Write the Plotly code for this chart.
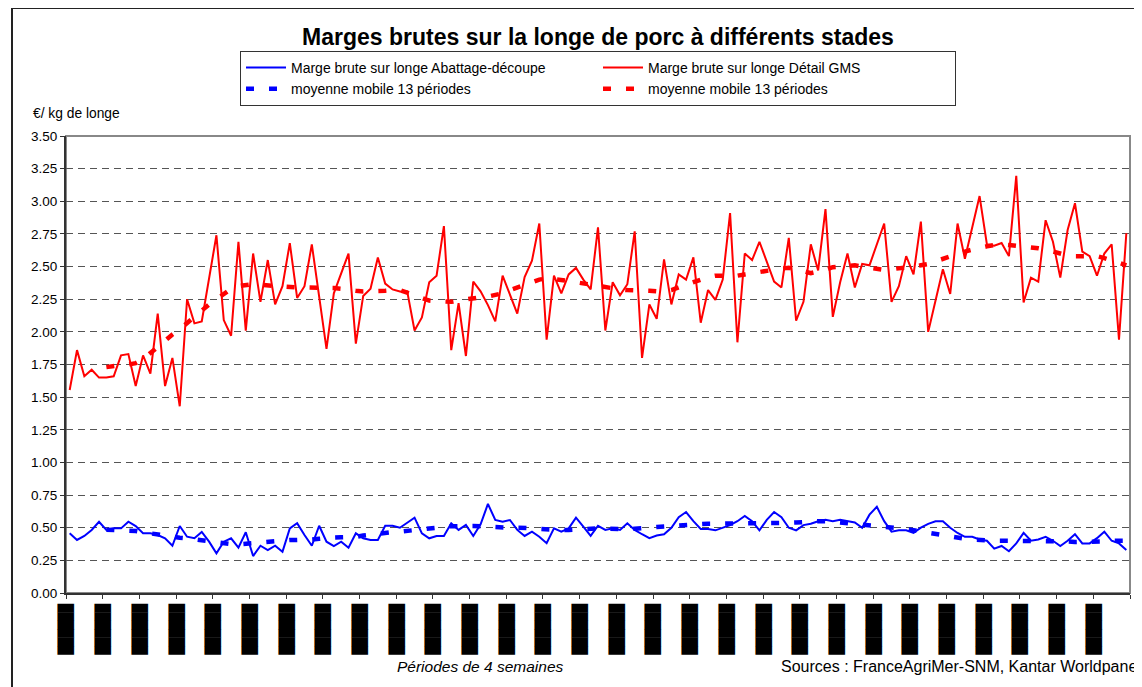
import plotly.graph_objects as go

# ---- data ----
periods = list(range(1, 146))  # 145 four-week periods

abattage = [
    0.457, 0.406, 0.437, 0.483, 0.546, 0.483, 0.495, 0.495, 0.546, 0.513,
    0.457, 0.457, 0.444, 0.419, 0.362, 0.513, 0.431, 0.419, 0.467, 0.393,
    0.304, 0.393, 0.419, 0.347, 0.465, 0.283, 0.362, 0.329, 0.362, 0.316,
    0.495, 0.534, 0.444, 0.362, 0.515, 0.393, 0.360, 0.393, 0.347, 0.457,
    0.419, 0.406, 0.406, 0.515, 0.515, 0.500, 0.538, 0.577, 0.457, 0.419,
    0.437, 0.437, 0.534, 0.483, 0.521, 0.437, 0.526, 0.682, 0.559, 0.546,
    0.559, 0.483, 0.437, 0.470, 0.431, 0.381, 0.495, 0.470, 0.495, 0.577,
    0.508, 0.437, 0.515, 0.483, 0.495, 0.483, 0.534, 0.483,
    0.45, 0.42, 0.44, 0.45, 0.50, 0.58, 0.62, 0.55, 0.49, 0.49,
    0.48, 0.50, 0.52, 0.55, 0.59, 0.55, 0.48, 0.56, 0.62, 0.58,
    0.50, 0.48, 0.52, 0.53, 0.55, 0.56, 0.55, 0.56, 0.55, 0.54,
    0.50, 0.60, 0.66, 0.55, 0.47, 0.48, 0.48, 0.46, 0.50, 0.53,
    0.55, 0.55, 0.50, 0.46, 0.43, 0.43, 0.41, 0.40, 0.34, 0.36,
    0.32, 0.38, 0.46, 0.40, 0.41, 0.43, 0.40, 0.36, 0.40, 0.45,
    0.38, 0.38, 0.42, 0.47, 0.40, 0.38, 0.33,
]

detail = [
    1.555, 1.86, 1.66, 1.71, 1.65, 1.65, 1.66, 1.82, 1.83, 1.585,
    1.82, 1.68, 2.14, 1.585, 1.80, 1.43, 2.25, 2.065, 2.08, 2.40,
    2.74, 2.09, 1.97, 2.69, 2.01, 2.60, 2.23, 2.55, 2.21, 2.35,
    2.68, 2.26, 2.35, 2.67, 2.27, 1.87, 2.295, 2.45, 2.60, 1.91,
    2.275, 2.33, 2.57, 2.37, 2.325, 2.31, 2.31, 2.01, 2.11, 2.38,
    2.43, 2.81, 1.86, 2.22, 1.815, 2.385, 2.31, 2.205, 2.08, 2.43,
    2.28, 2.14, 2.42, 2.545, 2.83, 1.94, 2.43, 2.295, 2.44, 2.49,
    2.40, 2.325, 2.80, 2.01, 2.38, 2.28, 2.365, 2.77, 1.80, 2.21,
    2.10, 2.555, 2.21, 2.44, 2.40, 2.57, 2.07, 2.32, 2.245, 2.40,
    2.91, 1.92, 2.60, 2.55, 2.69, 2.54, 2.385, 2.34, 2.72, 2.085,
    2.23, 2.67, 2.47, 2.94, 2.115, 2.38, 2.60, 2.34, 2.52, 2.51,
    2.665, 2.83, 2.23, 2.35, 2.58, 2.44, 2.845, 2.00, 2.24, 2.48,
    2.29, 2.83, 2.56, 2.80, 3.04, 2.67, 2.66, 2.68, 2.58, 3.195,
    2.225, 2.415, 2.385, 2.855, 2.69, 2.415, 2.78, 2.985, 2.615, 2.58,
    2.43, 2.60, 2.67, 1.94, 2.755,
]

# 13-period moving averages (first 5 periods have no value)
mm_abattage = [None] * 5 + [
    0.485, 0.483, 0.48, 0.478, 0.475, 0.465, 0.455, 0.445, 0.437, 0.43,
    0.423, 0.418, 0.41, 0.40, 0.393, 0.387, 0.38, 0.375, 0.373, 0.378,
    0.385, 0.39, 0.397, 0.403, 0.406, 0.406, 0.406, 0.406, 0.41, 0.415,
    0.422, 0.425, 0.427, 0.427, 0.43, 0.44, 0.448, 0.455, 0.46, 0.467,
    0.47, 0.475, 0.48, 0.483, 0.49, 0.50, 0.51, 0.513, 0.513, 0.513,
    0.513, 0.51, 0.505, 0.50, 0.50, 0.50, 0.50, 0.50, 0.495, 0.49,
    0.485, 0.483, 0.483, 0.483, 0.486, 0.49, 0.495, 0.495, 0.492, 0.49,
    0.488, 0.49, 0.493, 0.495,
    0.50, 0.505, 0.51, 0.515, 0.52, 0.522, 0.525, 0.527, 0.53, 0.53,
    0.53, 0.53, 0.53, 0.53, 0.53, 0.53, 0.53, 0.532, 0.535, 0.538,
    0.54, 0.545, 0.548, 0.55, 0.55, 0.545, 0.54, 0.535, 0.53, 0.525,
    0.52, 0.515, 0.51, 0.505, 0.50, 0.49, 0.48, 0.47, 0.46, 0.45,
    0.44, 0.43, 0.42, 0.415, 0.41, 0.405, 0.40, 0.40, 0.40, 0.40,
    0.40, 0.40, 0.40, 0.40, 0.40, 0.40, 0.40, 0.395, 0.39, 0.39,
    0.39, 0.39, 0.395, 0.40, 0.40, 0.40,
]

mm_detail = [None] * 5 + [
    1.73, 1.74, 1.745, 1.75, 1.76, 1.79, 1.84, 1.89, 1.93, 1.98,
    2.02, 2.07, 2.11, 2.16, 2.21, 2.25, 2.29, 2.33, 2.35, 2.36,
    2.365, 2.36, 2.355, 2.35, 2.345, 2.34, 2.34, 2.34, 2.34, 2.34,
    2.34, 2.335, 2.33, 2.32, 2.315, 2.31, 2.31, 2.31, 2.315, 2.32,
    2.32, 2.30, 2.28, 2.255, 2.24, 2.235, 2.23, 2.23, 2.24, 2.25,
    2.26, 2.265, 2.27, 2.28, 2.295, 2.32, 2.34, 2.36, 2.38, 2.40,
    2.41, 2.405, 2.40, 2.39, 2.38, 2.37, 2.36, 2.35, 2.34, 2.33,
    2.325, 2.32, 2.32, 2.32, 2.315, 2.31, 2.31, 2.32, 2.34, 2.36,
    2.38, 2.40, 2.42, 2.43, 2.43, 2.43, 2.43, 2.44, 2.45, 2.455,
    2.465, 2.475, 2.485, 2.49, 2.48, 2.465, 2.45, 2.46, 2.475, 2.495,
    2.50, 2.505, 2.51, 2.50, 2.49, 2.48, 2.475, 2.48, 2.485, 2.49,
    2.50, 2.51, 2.52, 2.54, 2.56, 2.58, 2.60, 2.615, 2.63, 2.645,
    2.655, 2.665, 2.67, 2.665, 2.66, 2.65, 2.645, 2.64, 2.63, 2.615,
    2.60, 2.585, 2.58, 2.58, 2.58, 2.58, 2.565, 2.545, 2.525, 2.51,
]

# period labels (one every 5 periods); the original labels render as solid blocks
tick_positions = [0.5 + 5 * k for k in range(30)]
tick_labels = ["\u2588" * 6] * 29 + [""]

names = [
    "Marge brute sur longe Abattage-découpe",
    "Marge brute sur longe Détail GMS",
    "moyenne mobile 13 périodes",
    "moyenne mobile 13 périodes",
]

BLUE = "#0000FF"
RED = "#FF0000"
FONT = "Liberation Sans, Arial, sans-serif"

fig = go.Figure()
fig.add_trace(go.Scatter(x=periods, y=abattage, mode="lines", name=names[0],
                         line=dict(color=BLUE, width=2)))
fig.add_trace(go.Scatter(x=periods, y=detail, mode="lines", name=names[1],
                         line=dict(color=RED, width=2)))
fig.add_trace(go.Scatter(x=periods, y=mm_abattage, mode="lines", name=names[2],
                         line=dict(color=BLUE, width=4.5, dash="8px,15px")))
fig.add_trace(go.Scatter(x=periods, y=mm_detail, mode="lines", name=names[3],
                         line=dict(color=RED, width=4.5, dash="8px,15px")))

# page is shown with an 8px body margin: lay out in page pixels minus 8
W, H = 1142, 687
OFF = 8
PL, PR, PT, PB = 66, 1130, 136, 593  # plot area in page pixels
L = PL - OFF
T = PT - OFF
R = W - (PR - OFF)
B = H - (PB - OFF)
pw, ph = PR - PL, PB - PT


def px_x(p):
    return (p - PL) / pw


def px_y(p):
    return (PB - p) / ph


fig.update_layout(
    width=W, height=H,
    margin=dict(l=L, r=R, t=T, b=B, autoexpand=False),
    paper_bgcolor="white", plot_bgcolor="white",
    font=dict(family=FONT, size=12, color="black"),
    showlegend=True,
    legend=dict(
        orientation="h", x=px_x(240), y=px_y(51), xanchor="left", yanchor="top",
        entrywidth=302, entrywidthmode="pixels",
        bordercolor="#333333", borderwidth=1, bgcolor="white",
        font=dict(family=FONT, size=14, color="black"),
        itemwidth=40,
    ),
    xaxis=dict(
        range=[0.5, 145.5], tickmode="array", tickvals=tick_positions, ticktext=tick_labels,
        tickangle=90, ticks="outside", ticklen=4, tickcolor="#333333", tickwidth=1,
        tickfont=dict(family="DejaVu Sans Mono", size=14, color="black"),
        showgrid=False, zeroline=False, showline=True, linecolor="#333333", linewidth=2,
        ticklabelstandoff=2, automargin=False,
    ),
    yaxis=dict(
        range=[0, 3.5], dtick=0.25, tick0=0, tickformat=".2f",
        ticks="outside", ticklen=4, tickcolor="#333333",
        tickfont=dict(family=FONT, size=13.5, color="black"),
        showgrid=True, gridcolor="#555555", griddash="7px,5px", gridwidth=1,
        zeroline=False, showline=True, linecolor="#333333", linewidth=2,
        automargin=False,
    ),
    title=dict(
        text="<b>Marges brutes sur la longe de porc à différents stades</b>",
        x=0.5, xref="paper", y=1 - (37 - OFF) / H, yref="container",
        xanchor="center", yanchor="middle",
        font=dict(family=FONT, size=23, color="black"),
    ),
    shapes=[
        dict(type="rect", xref="paper", yref="paper", x0=0, x1=1, y0=0, y1=1,
             line=dict(color="#888888", width=2), layer="below"),
        dict(type="rect", xref="paper", yref="paper", x0=px_x(12), x1=px_x(1250),
             y0=px_y(800), y1=px_y(8), line=dict(color="#222222", width=2), layer="below"),
    ],
    annotations=[
        dict(text="€/ kg de longe", xref="paper", yref="paper", x=px_x(31), y=px_y(113),
             xanchor="left", yanchor="middle", showarrow=False,
             font=dict(family=FONT, size=13.8, color="black")),
        dict(text="<i>Périodes de 4 semaines</i>", xref="paper", yref="paper",
             x=px_x(480), y=px_y(666), xanchor="center", yanchor="middle", showarrow=False,
             font=dict(family=FONT, size=15.5, color="black")),
        dict(text="Sources : FranceAgriMer-SNM, Kantar Worldpanel", xref="paper", yref="paper",
             x=px_x(779), y=px_y(666), xanchor="left", yanchor="middle", showarrow=False,
             font=dict(family=FONT, size=16, color="black")),
    ],
)

fig.write_html("out.html")
